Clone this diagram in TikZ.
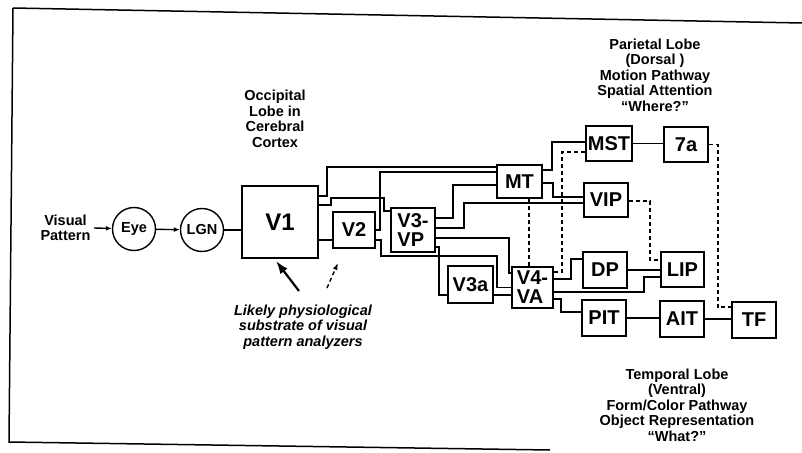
\documentclass[tikz,border=0pt]{standalone}
\usepackage{fontspec}
\setmainfont{Liberation Sans}
\usetikzlibrary{arrows.meta,positioning}
\tikzset{
  area/.style={rectangle,draw,line width=1.8pt,minimum width=44pt,minimum height=36pt,
    inner sep=1pt,align=left,font=\fontsize{20}{19}\selectfont\bfseries},
  relay/.style={circle,draw,line width=1.4pt,minimum size=43pt,inner sep=0pt,
    font=\fontsize{14.5}{14.5}\selectfont\bfseries},
  note/.style={align=center,font=\fontsize{14.5}{15.5}\selectfont\bfseries},
  wire/.style={line width=1.5pt},
  feedback/.style={line width=1.4pt,dash pattern=on 4pt off 3pt},
  arr/.style={-{Latex[length=6pt,width=5pt]},line width=1.4pt},
  bigarr/.style={-{Latex[length=13pt,width=9pt]},line width=2.2pt},
  dasharr/.style={-{Latex[length=7pt,width=5pt]},line width=1.4pt,dash pattern=on 4pt off 3pt},
  frame/.style={line width=1.5pt}
}

\begin{document}
\begin{tikzpicture}[x=1pt,y=-1pt]
  \useasboundingbox (0,0) rectangle (802,452);
  % scanned frame
  \draw[frame] (13,8) -- (802,23);
  \draw[frame] (13,8) -- (9,442) -- (550,450);

  % retina and thalamus
  \node[note,anchor=east] (vis) at (94,228) {Visual\\Pattern};
  \node[relay] (eye) at (134,229) {Eye};
  \node[relay] (lgn) at (202,230) {LGN};

  % cortical areas
  \node[area,minimum width=76pt,minimum height=72pt,font=\fontsize{24}{24}\selectfont\bfseries] (v1) at (280,222) {V1};
  \node[area,minimum width=42pt] (v2) at (354,230) {V2};
  \node[area,minimum height=44pt] (v3vp) at (413,230) {V3-\\VP};
  \node[area,minimum width=45pt,minimum height=37pt] (v3a) at (470.5,284.5) {V3a};
  \node[area,minimum width=41pt,minimum height=41pt] (v4va) at (532.5,287.5) {V4-\\VA};
  \node[area,minimum width=45pt,minimum height=33pt] (mt) at (519.5,181.5) {MT};
  \node[area,minimum width=46pt,minimum height=35pt] (mst) at (609,143.5) {MST};
  \node[area,minimum height=35pt] (area7a) at (686,144.5) {7a};
  \node[area,minimum height=34pt] (vip) at (606,200) {VIP};
  \node[area] (dp) at (605,270) {DP};
  \node[area,minimum width=43pt,minimum height=35pt] (lip) at (682.5,269.5) {LIP};
  \node[area] (pit) at (604,318) {PIT};
  \node[area] (ait) at (682,319) {AIT};
  \node[area] (tf) at (754,320) {TF};

  % labels
  \node[note] (occ) at (275,119) {Occipital\\Lobe in\\Cerebral\\Cortex};
  \node[note] (par) at (655,75) {Parietal Lobe\\(Dorsal )\\Motion Pathway\\Spatial Attention\\``Where?''};
  \node[note] (temp) at (677,405) {Temporal Lobe\\(Ventral)\\Form/Color Pathway\\Object Representation\\``What?''};
  \node[note,font=\fontsize{14.5}{15.5}\selectfont\bfseries\itshape] (likely) at (303,327)
    {Likely physiological\\substrate of visual\\pattern analyzers};

  % input path
  \draw[arr] (vis.east) -- (eye);
  \draw[arr] (eye) -- (lgn);
  \draw[wire] (lgn.east) -- (lgn.east -| v1.west);

  % V1 and V2 outputs
  \draw[wire] ([yshift=-11pt]v1.north east) -- ++(8,0) |- ([yshift=-3pt]mt.north west);
  \draw[wire] ([yshift=-20pt]v1.north east) -- ++(12,0) -- ++(0,-7) -| ([xshift=-6pt,yshift=-4pt]v3vp.north west) -- ([yshift=-4pt]v3vp.north west);
  \draw[wire] ([yshift=-10pt]v2.west) -- ([yshift=-10pt]v2.west -| v1.east);
  \draw[wire] (v2.east) -- ++(4,0) |- ([yshift=9.5pt]mt.west);
  \draw[wire] ([yshift=-10pt]v2.east) -- ++(5,0) |- (497,256) |- (v4va.west);

  % V3-VP outputs
  \draw[wire] ([yshift=12pt]v3vp.east) -- ++(17,0) |- ([yshift=-3.5pt]mt.west);
  \draw[wire] ([yshift=2pt]v3vp.east) -- ++(28,0) |- ([yshift=-3pt]vip.west);
  \draw[wire] ([yshift=-8pt]v3vp.east) -- ++(73,0) |- ([yshift=14.5pt]v4va.west);
  \draw[wire] ([yshift=-17pt]v3vp.east) -- ++(3,0) |- ([yshift=-10.5pt]v3a.west);
  \draw[wire] ([yshift=-10.5pt]v3a.east) -- ([yshift=-10.5pt]v3a.east -| v4va.west);

  % dorsal stream
  \draw[wire] ([yshift=11.5pt]mt.east) -- ++(9,0) |- ([yshift=1.5pt]mst.west);
  \draw[wire] ([yshift=-1.5pt]mt.east) -- ++(10,0) |- ([yshift=3pt]vip.west);
  \draw[wire] (mst.east) -- (mst.east -| area7a.west);

  % ventral stream
  \draw[wire] ([yshift=8.5pt]v4va.east) -- ++(17,0) |- ([yshift=11pt]dp.west);
  \draw[wire] ([yshift=-4.5pt]v4va.east) -- ++(90,0) |- ([yshift=-7.5pt]lip.west);
  \draw[wire] ([yshift=-11.5pt]v4va.east) -- ++(7,0) |- ([yshift=6pt]pit.west);
  \draw[wire] (dp.east) -- (dp.east -| lip.west);
  \draw[wire] (pit.east) -- (pit.east -| ait.west);
  \draw[wire] (ait.east) -- (ait.east -| tf.west);

  % cross-stream links
  \draw[feedback] ([xshift=9.5pt]mt.south) -- ([xshift=9.5pt]mt.south |- v4va.north);
  \draw[feedback] ([yshift=-8.5pt]mst.west) -- ++(-23,0) |- ([yshift=15.5pt]v4va.east);
  \draw[feedback] ([yshift=-1pt]vip.east) -- ++(21,0) |- ([yshift=9.5pt]lip.west);
  \draw[feedback] (area7a.east) -- ++(9,0) |- ([yshift=13pt]tf.west);

  % pointers to the analyzers
  \coordinate (tipsolid) at (299,291);
  \coordinate (tipdash) at (327,288);
  \draw[bigarr] (tipsolid) -- ([xshift=-4pt,yshift=-2pt]v1.south);
  \draw[dasharr] (tipdash) -- ([xshift=-16pt,yshift=-14pt]v2.south);
\end{tikzpicture}
\end{document}
